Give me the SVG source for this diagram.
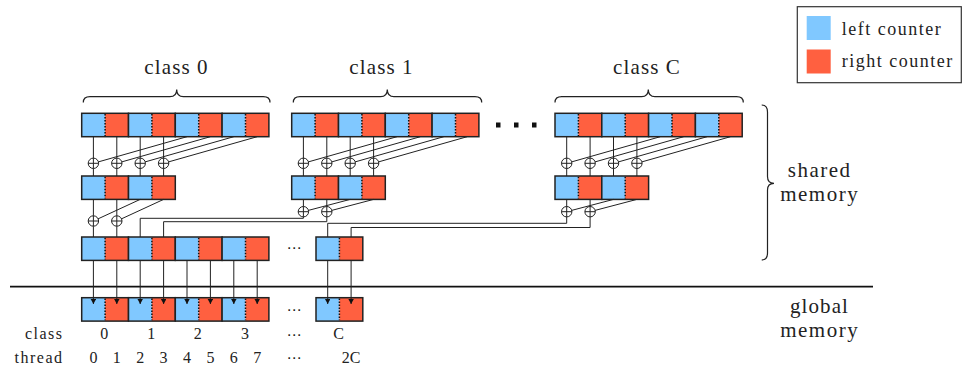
<svg xmlns="http://www.w3.org/2000/svg" width="962" height="369" viewBox="0 0 962 369">
<style>
text{font-family:'Liberation Serif',serif;fill:#222}
.w1{letter-spacing:1.1px}
.w2{letter-spacing:1.5px}
.ln{stroke:#222;stroke-width:1;fill:none}
.br{stroke:#222;stroke-width:1.2;fill:none}
.bl{fill:#80c8ff}
.rd{fill:#ff6040}
</style>
<defs>
<g id="pr">
<rect x="0" y="0" width="23.4" height="23.4" class="bl"/>
<rect x="23.4" y="0" width="23.4" height="23.4" class="rd"/>
<line x1="23.4" y1="0.8" x2="23.4" y2="22.6" stroke="#111" stroke-width="1.5" stroke-dasharray="1.5 1.5"/>
<rect x="0" y="0" width="46.8" height="23.4" fill="none" stroke="#222" stroke-width="1.5"/>
</g>
<g id="add">
<circle r="5.2" fill="#fff" stroke="#222" stroke-width="1"/>
<path d="M-5.2 0H5.2M0 -5.2V5.2" stroke="#222" stroke-width="1"/>
</g>
<marker id="ah" markerWidth="6" markerHeight="6" refX="5" refY="2.75" orient="auto" markerUnits="userSpaceOnUse">
<path d="M0 0L5 2.75L0 5.5z" fill="#111"/>
</marker>
</defs>
<rect width="962" height="369" fill="#fff"/>

<g id="legend">
<rect x="797.3" y="6.7" width="164" height="76" fill="#fff" stroke="#333" stroke-width="1.2"/>
<rect x="806.7" y="16" width="24" height="24" class="bl"/>
<rect x="806.7" y="49.5" width="24" height="24" class="rd"/>
<text class="w2" x="841.7" y="35" font-size="18">left counter</text>
<text class="w2" x="841.7" y="66.5" font-size="18">right counter</text>
</g>

<g id="labels">
<text class="w1" x="176.5" y="74" font-size="21" text-anchor="middle">class 0</text>
<text class="w1" x="381.5" y="74" font-size="21" text-anchor="middle">class 1</text>
<text class="w1" x="647" y="74" font-size="21" text-anchor="middle">class C</text>
<path class="br" d="M83.3 102.5Q83.3 96.7 90 96.7L170 96.7Q176.7 96.7 176.7 89.5Q176.7 96.7 183.4 96.7L263.3 96.7Q270 96.7 270 102.5"/>
<path class="br" d="M293.3 102.5Q293.3 96.7 300 96.7L380.6 96.7Q387.3 96.7 387.3 89.5Q387.3 96.7 394 96.7L475 96.7Q481.7 96.7 481.7 102.5"/>
<path class="br" d="M555 102.5Q555 96.7 561.7 96.7L641.6 96.7Q648.3 96.7 648.3 89.5Q648.3 96.7 655 96.7L736.6 96.7Q743.3 96.7 743.3 102.5"/>
<path class="br" d="M761.7 105Q767.5 105 767.5 112L767.5 176.5Q767.5 183.3 774 183.3Q767.5 183.3 767.5 190L767.5 253Q767.5 260 761.7 260"/>
<rect x="496" y="122.5" width="4.5" height="5" fill="#111"/>
<rect x="514" y="122.5" width="4.5" height="5" fill="#111"/>
<rect x="532" y="122.5" width="4.5" height="5" fill="#111"/>
<text class="w2" x="819.7" y="177.3" font-size="21" text-anchor="middle">shared</text>
<text class="w2" x="819.7" y="200.7" font-size="21" text-anchor="middle">memory</text>
<text class="w1" x="819.5" y="312.5" font-size="21" text-anchor="middle">global</text>
<text class="w2" x="819.7" y="336.5" font-size="21" text-anchor="middle">memory</text>
<line x1="10" y1="286.7" x2="873" y2="286.7" stroke="#111" stroke-width="1.8"/>
<text class="w2" x="63.5" y="339.3" font-size="16" text-anchor="end">class</text>
<text class="w2" x="63.5" y="362.7" font-size="16" text-anchor="end">thread</text>
<g font-size="16" text-anchor="middle">
<text x="104.3" y="339.3">0</text>
<text x="151.3" y="339.3">1</text>
<text x="197.8" y="339.3">2</text>
<text x="245" y="339.3">3</text>
<text x="338.5" y="339.3">C</text>
<text x="93.4" y="362.7">0</text>
<text x="116.8" y="362.7">1</text>
<text x="140.2" y="362.7">2</text>
<text x="163.6" y="362.7">3</text>
<text x="187" y="362.7">4</text>
<text x="210.4" y="362.7">5</text>
<text x="233.8" y="362.7">6</text>
<text x="257.2" y="362.7">7</text>
<text x="351" y="362.7">2C</text>
</g>
<g font-size="15" text-anchor="middle">
<text x="294" y="253" style="font-family:'DejaVu Sans',sans-serif">⋯</text>
<text x="294" y="315" style="font-family:'DejaVu Sans',sans-serif">⋯</text>
<text x="294" y="340" style="font-family:'DejaVu Sans',sans-serif">⋯</text>
<text x="294" y="363" style="font-family:'DejaVu Sans',sans-serif">⋯</text>
</g>
</g>

<g id="class0-in"><use href="#pr" x="81.7" y="113.3"/><use href="#pr" x="128.5" y="113.3"/><use href="#pr" x="175.3" y="113.3"/><use href="#pr" x="222.1" y="113.3"/></g>
<g id="class0-mid"><use href="#pr" x="81.7" y="176"/><use href="#pr" x="128.5" y="176"/></g>
<g id="class1-in"><use href="#pr" x="291.7" y="113.3"/><use href="#pr" x="338.5" y="113.3"/><use href="#pr" x="385.3" y="113.3"/><use href="#pr" x="432.1" y="113.3"/></g>
<g id="class1-mid"><use href="#pr" x="291.7" y="176"/><use href="#pr" x="338.5" y="176"/></g>
<g id="classC-in"><use href="#pr" x="555" y="113.3"/><use href="#pr" x="601.8" y="113.3"/><use href="#pr" x="648.6" y="113.3"/><use href="#pr" x="695.4" y="113.3"/></g>
<g id="classC-mid"><use href="#pr" x="555" y="176"/><use href="#pr" x="601.8" y="176"/></g>
<g id="shared-out"><use href="#pr" x="81.7" y="237"/><use href="#pr" x="128.5" y="237"/><use href="#pr" x="175.3" y="237"/><use href="#pr" x="222.1" y="237"/><use href="#pr" x="316" y="237"/></g>
<g id="global-out"><use href="#pr" x="81.7" y="297.7"/><use href="#pr" x="128.5" y="297.7"/><use href="#pr" x="175.3" y="297.7"/><use href="#pr" x="222.1" y="297.7"/><use href="#pr" x="316" y="297.7"/></g>

<g id="connectors" class="ln">
<path d="M93.4 136.7V176M116.8 136.7V176M140.2 136.7V176M163.6 136.7V176"/>
<path d="M187 136.7L93.4 163.3M210.4 136.7L116.8 163.3M233.8 136.7L140.2 163.3M257.2 136.7L163.6 163.3"/>
<path d="M93.4 199.4V237M116.8 199.4V237M140.2 199.4L93.4 221M163.6 199.4L116.8 221"/>
<path d="M303.4 136.7V176M326.8 136.7V176M350.2 136.7V176M373.6 136.7V176"/>
<path d="M397 136.7L303.4 163.3M420.4 136.7L326.8 163.3M443.8 136.7L350.2 163.3M467.2 136.7L373.6 163.3"/>
<path d="M350.2 199.4L303.4 211.7M373.6 199.4L326.8 211.7"/>
<path d="M303.4 199.4V218.3H140.2V237M326.8 199.4V221.7H163.6V237"/>
<path d="M566.7 136.7V176M590.1 136.7V176M613.5 136.7V176M636.9 136.7V176"/>
<path d="M660.3 136.7L566.7 163.3M683.7 136.7L590.1 163.3M707.1 136.7L613.5 163.3M730.5 136.7L636.9 163.3"/>
<path d="M613.5 199.4L566.7 211.7M636.9 199.4L590.1 211.7"/>
<path d="M566.7 199.4V223.3H327.7V237M590.1 199.4V227.5H351.1V237"/>
<g marker-end="url(#ah)">
<line x1="93.4" y1="260.4" x2="93.4" y2="304"/>
<line x1="116.8" y1="260.4" x2="116.8" y2="304"/>
<line x1="140.2" y1="260.4" x2="140.2" y2="304"/>
<line x1="163.6" y1="260.4" x2="163.6" y2="304"/>
<line x1="187" y1="260.4" x2="187" y2="304"/>
<line x1="210.4" y1="260.4" x2="210.4" y2="304"/>
<line x1="233.8" y1="260.4" x2="233.8" y2="304"/>
<line x1="257.2" y1="260.4" x2="257.2" y2="304"/>
<line x1="327.7" y1="260.4" x2="327.7" y2="304"/>
<line x1="351.1" y1="260.4" x2="351.1" y2="304"/>
</g>
</g>

<g id="adders-class0"><use href="#add" x="93.4" y="163.3"/><use href="#add" x="116.8" y="163.3"/><use href="#add" x="140.2" y="163.3"/><use href="#add" x="163.6" y="163.3"/><use href="#add" x="93.4" y="221"/><use href="#add" x="116.8" y="221"/></g>
<g id="adders-class1"><use href="#add" x="303.4" y="163.3"/><use href="#add" x="326.8" y="163.3"/><use href="#add" x="350.2" y="163.3"/><use href="#add" x="373.6" y="163.3"/><use href="#add" x="303.4" y="211.7"/><use href="#add" x="326.8" y="211.7"/></g>
<g id="adders-classC"><use href="#add" x="566.7" y="163.3"/><use href="#add" x="590.1" y="163.3"/><use href="#add" x="613.5" y="163.3"/><use href="#add" x="636.9" y="163.3"/><use href="#add" x="566.7" y="211.7"/><use href="#add" x="590.1" y="211.7"/></g>
</svg>
